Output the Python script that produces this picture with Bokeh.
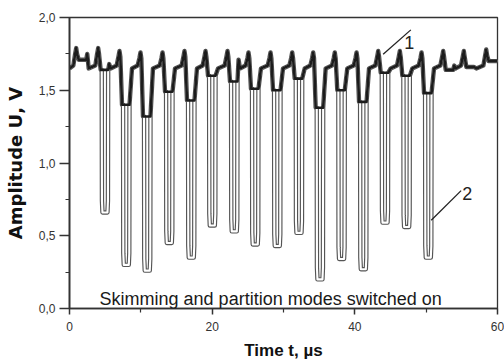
from bokeh.plotting import figure
from bokeh.models import Range1d, FixedTicker, CustomJSTickFormatter, Label
from bokeh.embed import file_html
from bokeh.resources import INLINE

# ---- data ----
# times of the narrow peaks (µs) and their heights (V)
peak_t = [0.94, 4.02, 7.01, 9.95, 13.04, 16.12, 19.07, 22.15, 25.09, 28.18,
          31.22, 34.16, 37.19, 40.24, 43.28, 46.31, 49.35, 52.39, 55.28, 58.42]
peak_v = [1.79, 1.79, 1.77, 1.76, 1.76, 1.77, 1.77, 1.77, 1.76, 1.76,
          1.76, 1.76, 1.76, 1.76, 1.77, 1.77, 1.76, 1.77, 1.77, 1.78]
# curve 1 level right after each peak (V)
dip_v = [1.71, 1.64, 1.40, 1.32, 1.49, 1.43, 1.60, 1.56, 1.51, 1.50,
         1.58, 1.38, 1.50, 1.42, 1.62, 1.60, 1.48, 1.64, 1.66, 1.70]
# small hump at end of the dip (V), None where absent
hump_v = [1.75, 1.68, None, None, None, None, None, 1.71, None, None,
          None, None, None, None, None, None, None, 1.67, None, None]
# curve 2 pulse minima (V), None where there is no pulse
pulse_min = [None, 0.66, 0.30, 0.26, 0.45, 0.35, 0.57, 0.53, 0.44, 0.43,
             0.52, 0.20, 0.34, 0.27, 0.59, 0.56, 0.35, None, None, None]
base_v = 1.65
start_v = 1.65
end_v = 1.70

x_ticks = [0, 20, 40, 60]
x_minor = [10, 30, 50]
y_ticks = [0.0, 0.5, 1.0, 1.5, 2.0]
y_minor = [0.25, 0.75, 1.25, 1.75]

note_text = "Skimming and partition modes switched on"


def build(with_pulses):
    xs, ys = [0.0], [start_v]
    n = len(peak_t)
    for k in range(n):
        p, h, d = peak_t[k], peak_v[k], dip_v[k]
        xs += [p - 0.4, p - 0.15, p, p + 0.12, p + 0.35]
        ys += [base_v + 0.02, h - 0.04, h, h - 0.04, d]
        m = pulse_min[k]
        if with_pulses and m is not None:
            xs += [p + 0.5, p + 0.53, p + 0.6, p + 1.3, p + 1.37, p + 1.4]
            ys += [d, m + 0.08, m, m, m + 0.08, d]
        if k == n - 1:
            xs += [60.0]
            ys += [end_v]
            break
        xs += [p + 1.4]
        ys += [d]
        if hump_v[k] is not None:
            xs += [p + 1.55]
            ys += [hump_v[k]]
        xs += [p + 1.75]
        ys += [base_v]
    return xs, ys


x1, y1 = build(False)
x2, y2 = build(True)

p = figure(width=504, height=363, x_range=Range1d(0, 60), y_range=Range1d(0, 2),
           output_backend="svg", toolbar_location=None,
           min_border_left=69, min_border_right=7, min_border_top=17, min_border_bottom=55)
p.xgrid.visible = False
p.ygrid.visible = False
p.background_fill_color = "white"
p.outline_line_color = "#333333"
p.outline_line_width = 1.3

# curve 2 (hollow thin line)
p.line(x2, y2, line_color="#555555", line_width=4.4, line_join="round")
p.line(x2, y2, line_color="white", line_width=2.1, line_join="round")
# curve 1 (thick)
p.line(x1, y1, line_color="#1c1c1c", line_width=2.6, line_join="round")

# leader lines and curve labels
p.line([43.97, 47.85], [1.747, 1.915], line_color="#222222", line_width=1.3)
p.add_layout(Label(x=46.93, y=1.826, text="1", text_font="Liberation Sans",
                   text_font_size="18px", text_color="#222222", text_baseline="alphabetic"))
p.line([50.71, 54.9], [0.606, 0.81], line_color="#222222", line_width=1.3)
p.add_layout(Label(x=55.05, y=0.79, text="2", text_font="Liberation Sans",
                   text_font_size="18px", text_color="#222222", text_baseline="alphabetic"))

p.add_layout(Label(x=28.2, y=0.062, text=note_text, text_font="Liberation Sans",
                   text_font_size="18px", text_color="#1a1a1a", text_align="center",
                   text_baseline="alphabetic"))

# axes
xa = p.xaxis[0]
xa.ticker = FixedTicker(ticks=x_ticks, minor_ticks=x_minor)
xa.axis_label = "Time t, µs"
xa.axis_label_text_font = "Liberation Sans"
xa.axis_label_text_font_style = "bold"
xa.axis_label_text_font_size = "17px"
xa.axis_label_text_color = "#111111"
xa.axis_label_standoff = 7
xa.major_label_text_font = "Liberation Sans"
xa.major_label_text_font_size = "12px"
xa.major_label_text_color = "#333333"
xa.major_label_standoff = 7
xa.major_tick_out = 6
xa.major_tick_in = 0
xa.minor_tick_out = 4
xa.minor_tick_in = 0
xa.axis_line_color = "#333333"
xa.axis_line_width = 1.5
xa.major_tick_line_color = "#333333"
xa.major_tick_line_width = 1.5
xa.minor_tick_line_color = "#333333"
xa.minor_tick_line_width = 1.2

ya = p.yaxis[0]
ya.ticker = FixedTicker(ticks=y_ticks, minor_ticks=y_minor)
ya.formatter = CustomJSTickFormatter(code="return tick.toFixed(1).replace('.', ',');")
ya.axis_label = "Amplitude U, V"
ya.axis_label_text_font = "DejaVu Sans"
ya.axis_label_text_font_style = "bold"
ya.axis_label_text_font_size = "18px"
ya.axis_label_text_color = "#111111"
ya.axis_label_standoff = 10
ya.major_label_text_font = "Liberation Sans"
ya.major_label_text_font_size = "12px"
ya.major_label_text_color = "#333333"
ya.major_label_standoff = 4
ya.major_tick_out = 10
ya.major_tick_in = 0
ya.minor_tick_out = 4
ya.minor_tick_in = 0
ya.axis_line_color = "#333333"
ya.axis_line_width = 1.8
ya.major_tick_line_color = "#333333"
ya.major_tick_line_width = 1.5
ya.minor_tick_line_color = "#333333"
ya.minor_tick_line_width = 1.2

open("out.html", "w").write(file_html(p, INLINE))
